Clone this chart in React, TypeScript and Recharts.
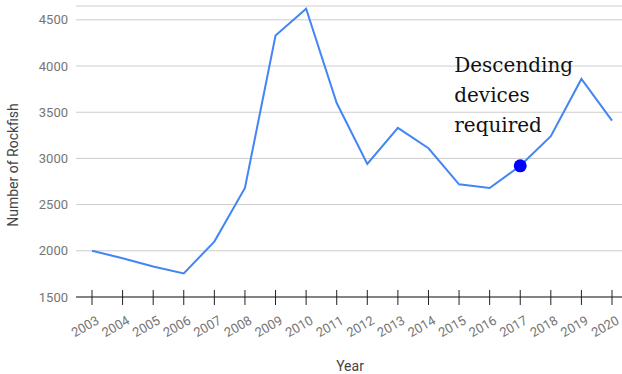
import { LineChart, Line, XAxis, YAxis, CartesianGrid } from 'recharts';

const years = [
  '2003', '2004', '2005', '2006', '2007', '2008', '2009', '2010', '2011',
  '2012', '2013', '2014', '2015', '2016', '2017', '2018', '2019', '2020',
];
const rockfish = [
  2000, 1920, 1830, 1755, 2100, 2680, 4330, 4620, 3600,
  2940, 3330, 3110, 2720, 2680, 2920, 3240, 3860, 3410,
];
const yTicks = [1500, 2000, 2500, 3000, 3500, 4000, 4500];
const markedYear = '2017';
const noteLines = ['Descending', 'devices', 'required'];

const data = years.map((year, i) => ({ year, value: rockfish[i] }));

const FONT = 'Roboto, Arial, sans-serif';

function YearTick(props: any) {
  const { x, y, payload } = props;
  return (
    <g>
      <line x1={x} x2={x} y1={y - 7} y2={y + 8} stroke="#222" strokeWidth={1} />
      <text
        x={x + 8}
        y={y + 26}
        textAnchor="end"
        fill="#757575"
        fontSize={13}
        fontFamily={FONT}
        transform={`rotate(-30 ${x + 8} ${y + 26})`}
      >
        {payload.value}
      </text>
    </g>
  );
}

function YTitle() {
  return (
    <text
      x={18}
      y={165}
      transform="rotate(-90 18 165)"
      textAnchor="middle"
      fill="#444"
      fontSize={14}
      fontFamily={FONT}
    >
      Number of Rockfish
    </text>
  );
}

function XTitle() {
  return (
    <text x={350} y={371} textAnchor="middle" fill="#444" fontSize={14} fontFamily={FONT}>
      Year
    </text>
  );
}

function renderDot(props: any) {
  const { cx, cy, payload, index } = props;
  if (payload.year !== markedYear) return <g key={`d${index}`} />;
  return (
    <g key={`d${index}`}>
      <circle cx={cx} cy={cy} r={6.5} fill="#0000ff" />
      <text x={cx - 66} fontSize={20} fontFamily="'DejaVu Serif', serif" fill="#111">
        {noteLines.map((t, i) => (
          <tspan key={t} x={cx - 66} y={cy - 94 + i * 30}>
            {t}
          </tspan>
        ))}
      </text>
    </g>
  );
}

export default function App() {
  return (
    <div style={{ position: 'absolute', left: 0, top: 0, background: '#fff' }}>
      <LineChart width={622} height={374} data={data} margin={{ top: 6, right: 0, bottom: 0, left: 0 }}>
        <CartesianGrid vertical={false} stroke="#cccccc" />
        <XAxis
          dataKey="year"
          height={77}
          padding={{ left: 16, right: 10 }}
          stroke="#222"
          tickSize={0}
          tickMargin={0}
          tickLine={false}
          interval={0}
          tick={<YearTick />}
          label={<XTitle />}
        />
        <YAxis
          width={76}
          domain={[1500, 4650]}
          ticks={yTicks}
          axisLine={false}
          tickLine={false}
          tickSize={0}
          tickMargin={8}
          tick={{ fill: '#757575', fontSize: 13, fontFamily: FONT }}
          label={<YTitle />}
        />
        <Line
          type="linear"
          dataKey="value"
          stroke="#4285f4"
          strokeWidth={2}
          dot={renderDot}
          activeDot={false}
          isAnimationActive={false}
        />
      </LineChart>
    </div>
  );
}
